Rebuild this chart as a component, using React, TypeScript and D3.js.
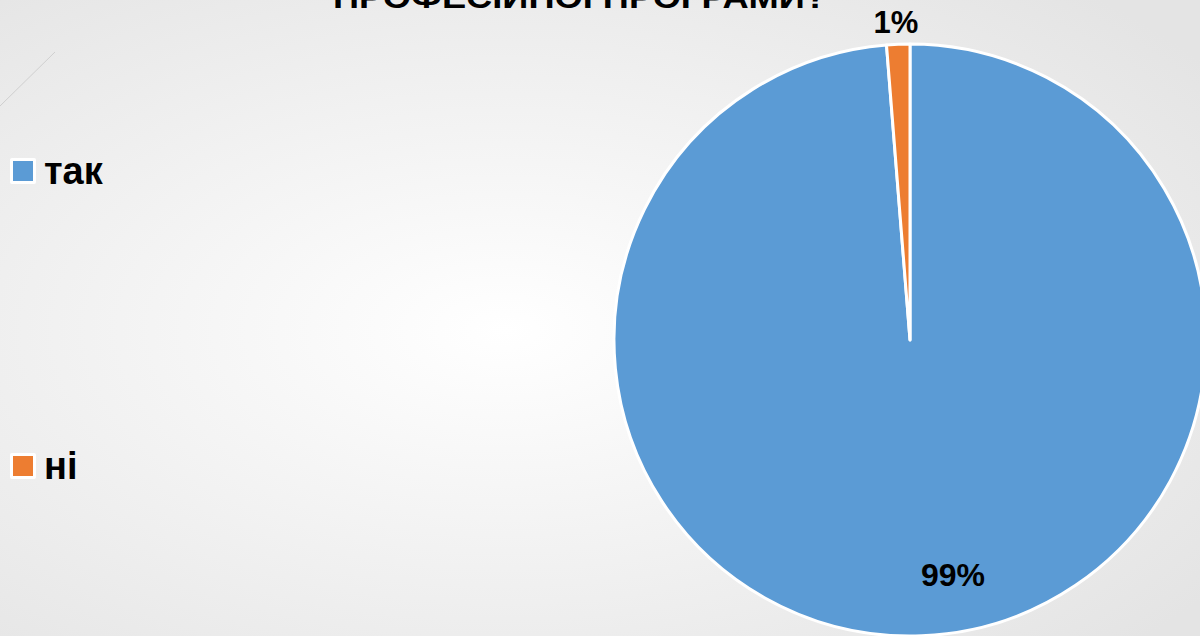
import React from "react";
import * as d3 from "d3";

const categories = ["так", "ні"];
const values = [78, 1];
const labels = ["99%", "1%"];
const colors = ["#5B9BD5", "#ED7D31"];
const title = "ПРОФЕСІЙНОЇ ПРОГРАМИ?";

export default function App() {
  const W = 1200, H = 636;
  const cx = 910, cy = 340, r = 296;
  const pie = d3.pie<number>().sort(null).value((d) => d);
  const arcs = pie(values);
  const arc = d3.arc<d3.PieArcDatum<number>>().innerRadius(0).outerRadius(r);
  const labelPos = [
    [953 - cx, 575 - cy],
    [896 - cx, 22 - cy],
  ];
  const font = "'Liberation Sans', Arial, sans-serif";
  return (
    <svg width={W} height={H} style={{ position: "absolute", left: 0, top: 0 }}>
      <defs>
        <radialGradient id="bg" cx="42%" cy="52%" r="72%">
          <stop offset="0%" stopColor="#ffffff" />
          <stop offset="100%" stopColor="#e4e4e4" />
        </radialGradient>
      </defs>
      <rect x={0} y={0} width={W} height={H} fill="url(#bg)" />
      <line x1={0} y1={106} x2={55} y2={52} stroke="#cfcfcf" strokeWidth={1} />
      <text x={580} y={8} textAnchor="middle" fontFamily={font} fontWeight="bold" fontSize={31} textLength={494} lengthAdjust="spacingAndGlyphs" fill="#000">{title}</text>
      <g transform={`translate(${cx},${cy})`}>
        {arcs.map((a, i) => (
          <path key={i} d={arc(a) || ""} fill={colors[i]} stroke="#fff" strokeWidth={3} strokeLinejoin="round" />
        ))}
        {arcs.map((a, i) => (
          <text key={"l" + i} x={labelPos[i][0]} y={labelPos[i][1]} textAnchor="middle" dominantBaseline="central" fontFamily={font} fontWeight="bold" fontSize={i === 0 ? 32 : 31} fill="#000">{labels[i]}</text>
        ))}
      </g>
      {categories.map((c, i) => (
        <g key={c} transform={`translate(0, ${i === 0 ? 171 : 466})`}>
          <rect x={10} y={-13} width={26} height={26} fill="#fff" rx={2} />
          <rect x={13} y={-10} width={20} height={20} fill={colors[i]} />
          <text x={44} y={13} fontFamily={font} fontWeight="bold" fontSize={38} fill="#000">{c}</text>
        </g>
      ))}
    </svg>
  );
}
